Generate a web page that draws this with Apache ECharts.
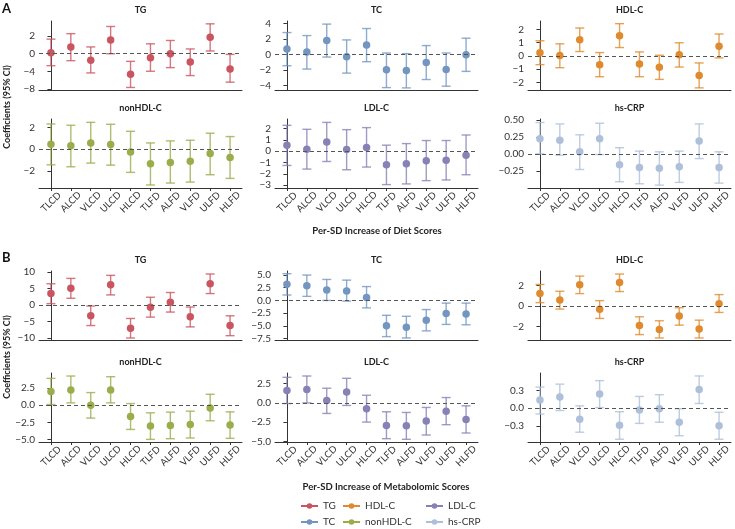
<!DOCTYPE html>
<html>
<head>
<meta charset="utf-8">
<script src="https://cdn.jsdelivr.net/npm/echarts@6/dist/echarts.min.js"></script>
<style>
  html, body { margin: 0; padding: 0; background: #fff; }
  #chart { width: 735px; height: 529px; }
</style>
</head>
<body>
<div id="chart"></div>
<script>
var categories = ['TLCD', 'ALCD', 'VLCD', 'ULCD', 'HLCD', 'TLFD', 'ALFD', 'VLFD', 'ULFD', 'HLFD']
var lipids = ['TG', 'TC', 'HDL-C', 'nonHDL-C', 'LDL-C', 'hs-CRP']
var colors = ['#c95560', '#7396c0', '#df8a2e', '#9aad4b', '#8782b6', '#aebfd9']

// [estimate, lower, upper] for each score
var dietTG = [[0.12, -2.7, 1.65], [0.77, -1.57, 2.27], [-1.5, -4.34, 0.77], [1.54, 0, 3.08], [-4.64, -7.63, -1.72],
  [-0.9, -3.96, 1.12], [0, -3.14, 1.5], [-1.87, -4.94, 0.54], [1.85, 0.31, 3.38], [-3.44, -6.43, -0.15]]
var dietTC = [[0.69, -1.47, 2.81], [0.3, -1.9, 2.42], [1.77, -0.35, 3.9], [-0.3, -2.42, 1.86], [1.21, -0.95, 3.33],
  [-1.99, -4.29, 0.17], [-2.08, -4.33, 0.09], [-1.04, -3.25, 1.13], [-1.95, -4.11, 0.17], [-0.04, -2.2, 2.08]]
var dietHDL = [[0.23, -0.66, 1.14], [0.03, -0.89, 0.91], [1.22, 0.33, 2.1], [-0.66, -1.57, 0.25], [1.52, 0.63, 2.43],
  [-0.61, -1.57, 0.3], [-0.86, -1.77, 0.05], [0.08, -0.84, 0.99], [-1.47, -2.41, -0.53], [0.73, -0.15, 1.65]]
var dietNonHDL = [[0.46, -1.45, 2.34], [0.31, -1.63, 2.22], [0.58, -1.29, 2.49], [0.43, -1.48, 2.31], [-0.25, -2.15, 1.66],
  [-1.35, -3.32, 0.58], [-1.23, -3.14, 0.77], [-1.11, -3.05, 0.83], [-0.4, -2.37, 1.48], [-0.77, -2.71, 1.17]]
var dietLDL = [[0.53, -1.26, 2.28], [0.18, -1.58, 1.93], [0.82, -0.91, 2.54], [0.15, -1.64, 1.9], [0.32, -1.4, 2.08],
  [-1.2, -2.95, 0.53], [-1.11, -2.89, 0.67], [-0.85, -2.6, 0.94], [-0.79, -2.54, 0.94], [-0.35, -2.08, 1.43]]
var dietCRP = [[0.22, 0, 0.46], [0.2, -0.02, 0.44], [0.03, -0.23, 0.28], [0.22, -0.01, 0.45], [-0.16, -0.41, 0.09],
  [-0.2, -0.44, 0.04], [-0.21, -0.46, 0.03], [-0.19, -0.42, 0.04], [0.19, -0.07, 0.44], [-0.2, -0.43, 0.03]]

var metabTG = [[3.47, 0.41, 6.43], [5.1, 2.04, 8.06], [-3.27, -6.22, -0.31], [6.12, 3.06, 8.98], [-7.04, -10, -4.08],
  [-0.71, -3.67, 2.35], [0.82, -2.14, 3.78], [-3.57, -6.63, -0.61], [6.43, 3.47, 9.39], [-6.22, -9.29, -3.27]]
var metabTC = [[3.2, 1.07, 5.27], [2.87, 0.8, 5], [2.07, 0, 4.13], [1.87, -0.13, 4], [0.6, -1.47, 2.73],
  [-5, -7.13, -2.93], [-5.27, -7.4, -3.13], [-3.93, -6, -1.8], [-2.6, -4.73, -0.53], [-2.67, -4.8, -0.53]]
var metabHDL = [[1.22, 0.33, 2.12], [0.6, -0.3, 1.45], [2.08, 1.22, 2.94], [-0.33, -1.22, 0.53], [2.31, 1.42, 3.14],
  [-1.92, -2.81, -1.06], [-2.31, -3.14, -1.45], [-0.99, -1.88, -0.17], [-2.25, -3.14, -1.39], [0.23, -0.63, 1.12]]
var metabNonHDL = [[1.98, 0.1, 3.91], [2.22, 0.34, 4.25], [0, -1.88, 1.84], [2.22, 0.34, 4.15], [-1.64, -3.53, 0.24],
  [-3.04, -4.98, -1.11], [-2.95, -4.88, -1.01], [-2.8, -4.78, -0.87], [-0.39, -2.27, 1.59], [-2.9, -4.83, -0.97]]
var metabLDL = [[1.6, -0.09, 3.32], [1.72, 0, 3.49], [0.3, -1.38, 1.9], [1.42, -0.34, 3.19], [-0.78, -2.5, 0.99],
  [-2.93, -4.66, -1.16], [-2.97, -4.74, -1.25], [-2.37, -4.18, -0.6], [-1.08, -2.84, 0.69], [-2.16, -3.92, -0.39]]
var metabCRP = [[0.14, -0.1, 0.36], [0.19, -0.04, 0.41], [-0.19, -0.41, 0.04], [0.24, 0.01, 0.47], [-0.29, -0.53, -0.06],
  [-0.03, -0.26, 0.2], [-0.01, -0.24, 0.23], [-0.24, -0.47, -0.01], [0.32, 0.08, 0.55], [-0.3, -0.53, -0.07]]

// y tick labels per panel
var dietTicks = [['-8', '-4', '0', '2'], ['-4', '-2', '0', '2', '4'], ['-2', '-1', '0', '1', '2'],
  ['-2', '0', '2'], ['-3', '-2', '-1', '0', '1', '2'], ['-0.25', '0.00', '0.25', '0.50']]
var metabTicks = [['-10', '-5', '0', '5', '10'], ['-7.5', '-5.0', '-2.5', '0.0', '2.5', '5.0'], ['-2', '0', '2'],
  ['-5.0', '-2.5', '0.0', '2.5'], ['-5.0', '-2.5', '0.0', '2.5'], ['-0.3', '0.0', '0.3']]

// y axis limits per panel
var dietRange = [[-8.2, 3.7], [-4.6, 4.3], [-2.57, 2.63], [-3.6, 2.8], [-3.25, 2.84], [-0.502, 0.512]]
var metabRange = [[-10.6, 10.3], [-7.8, 5.8], [-3.34, 3.44], [-5.36, 4.69], [-5.09, 3.88], [-0.577, 0.6]]

var dietData = [dietTG, dietTC, dietHDL, dietNonHDL, dietLDL, dietCRP]
var metabData = [metabTG, metabTC, metabHDL, metabNonHDL, metabLDL, metabCRP]

// the diet TG panel uses an uneven axis (2 per step above 0, 4 per step below)
function tgScale(v) { return v >= 0 ? v / 2 : v / 4 }
function identity(v) { return v }

var colLeft = [39, 275, 528]
var rowTop = [21, 119, 271, 373]
var plotW = 203
var plotH = 69
var font = 'Lato'
var ink = '#333'

var grids = []
var xAxes = []
var yAxes = []
var series = []
var graphics = []

function addPanel(sectionRow, k, rows, ticks, range, scale) {
  var idx = grids.length
  var row = sectionRow + Math.floor(k / 3)
  var col = k % 3
  var bottomRow = k >= 3
  var color = colors[k]
  var catPos = categories.map(function (c, i) { return i })

  grids.push({ left: colLeft[col], top: rowTop[row], width: plotW, height: plotH })

  xAxes.push({
    type: 'value', gridIndex: idx, min: -0.6, max: 9.6,
    axisLine: { show: true, onZero: false, lineStyle: { color: ink, width: 1 } },
    axisTick: { show: bottomRow, length: 3, customValues: catPos, lineStyle: { color: ink } },
    axisLabel: {
      show: bottomRow, rotate: 45, margin: 14, fontSize: 9.5, fontFamily: font, color: ink,
      align: 'center', verticalAlign: 'middle',
      customValues: catPos,
      formatter: function (v) { return categories[Math.round(v)] }
    },
    splitLine: { show: false }
  })

  var tickPos = ticks.map(function (t) { return scale(parseFloat(t)) })
  yAxes.push({
    type: 'value', gridIndex: idx, min: scale(range[0]), max: scale(range[1]),
    axisLine: { show: true, lineStyle: { color: ink, width: 1 } },
    axisTick: { show: true, length: 3.5, customValues: tickPos, lineStyle: { color: ink } },
    axisLabel: {
      fontSize: 10, fontFamily: font, color: ink, margin: 4,
      customValues: tickPos,
      formatter: function (v) {
        for (var i = 0; i < tickPos.length; i++) {
          if (Math.abs(tickPos[i] - v) < 1e-6) return ticks[i].replace('-', '\u2212')
        }
        return ''
      }
    },
    splitLine: { show: false }
  })

  series.push({
    type: 'custom',
    xAxisIndex: idx, yAxisIndex: idx,
    silent: true,
    data: rows.map(function (r, i) { return [i, scale(r[1]), scale(r[2])] }),
    renderItem: function (params, api) {
      var lo = api.coord([api.value(0), api.value(1)])
      var hi = api.coord([api.value(0), api.value(2)])
      var w = 4.5
      var st = { stroke: color, lineWidth: 1.4, opacity: 0.8 }
      return {
        type: 'group',
        children: [
          { type: 'line', shape: { x1: lo[0], y1: lo[1], x2: hi[0], y2: hi[1] }, style: st },
          { type: 'line', shape: { x1: lo[0] - w, y1: lo[1], x2: lo[0] + w, y2: lo[1] }, style: st },
          { type: 'line', shape: { x1: hi[0] - w, y1: hi[1], x2: hi[0] + w, y2: hi[1] }, style: st }
        ]
      }
    },
    markLine: {
      silent: true, symbol: 'none', label: { show: false },
      lineStyle: { type: [4, 3], color: '#555', width: 1.1 },
      data: [{ yAxis: 0 }]
    },
    z: 2
  })

  series.push({
    type: 'line',
    name: lipids[k],
    xAxisIndex: idx, yAxisIndex: idx,
    data: rows.map(function (r, i) { return [i, scale(r[0])] }),
    showSymbol: true, symbol: 'circle', symbolSize: 7.5,
    lineStyle: { opacity: 0 },
    itemStyle: { color: color },
    z: 3
  })

  graphics.push({
    type: 'text', x: colLeft[col] + plotW / 2, y: rowTop[row] - 11,
    style: { text: lipids[k], align: 'center', verticalAlign: 'middle', font: 'bold 9px ' + font, fill: '#222' }
  })
}

for (var k = 0; k < 6; k++) {
  addPanel(0, k, dietData[k], dietTicks[k], dietRange[k], k === 0 ? tgScale : identity)
}
for (var k2 = 0; k2 < 6; k2++) {
  addPanel(2, k2, metabData[k2], metabTicks[k2], metabRange[k2], identity)
}

graphics.push(
  { type: 'text', x: 2, y: 9, style: { text: 'A', verticalAlign: 'middle', font: 'bold 13px ' + font, fill: '#111' } },
  { type: 'text', x: 2, y: 258, style: { text: 'B', verticalAlign: 'middle', font: 'bold 13px ' + font, fill: '#111' } },
  { type: 'text', x: 7, y: 107, rotation: Math.PI / 2,
    style: { text: 'Coefficients (95% CI)', align: 'center', verticalAlign: 'middle', font: 'bold 9px ' + font, fill: '#222' } },
  { type: 'text', x: 7, y: 357, rotation: Math.PI / 2,
    style: { text: 'Coefficients (95% CI)', align: 'center', verticalAlign: 'middle', font: 'bold 9px ' + font, fill: '#222' } },
  { type: 'text', x: 377, y: 231,
    style: { text: 'Per-SD Increase of Diet Scores', align: 'center', verticalAlign: 'middle', font: 'bold 9.5px ' + font, fill: '#222' } },
  { type: 'text', x: 386, y: 487,
    style: { text: 'Per-SD Increase of Metabolomic Scores', align: 'center', verticalAlign: 'middle', font: 'bold 9.5px ' + font, fill: '#222' } }
)

// legend: three columns of two entries (TG, TC | HDL-C, nonHDL-C | LDL-C, hs-CRP), one small legend per entry
var legendLeft = [300, 342, 425]
var legendTop = [501, 517]
var legends = lipids.map(function (name, i) {
  return {
    left: legendLeft[Math.floor(i / 2)], top: legendTop[i % 2], padding: 0,
    itemWidth: 17, itemHeight: 7,
    data: [name],
    textStyle: { fontSize: 10, fontFamily: font, color: ink },
    lineStyle: { width: 2, opacity: 1 },
    selectedMode: false
  }
})

var chart = echarts.init(document.getElementById('chart'))
chart.setOption({
  animation: false,
  backgroundColor: '#fff',
  grid: grids,
  xAxis: xAxes,
  yAxis: yAxes,
  series: series,
  legend: legends,
  graphic: graphics
})
</script>
</body>
</html>
